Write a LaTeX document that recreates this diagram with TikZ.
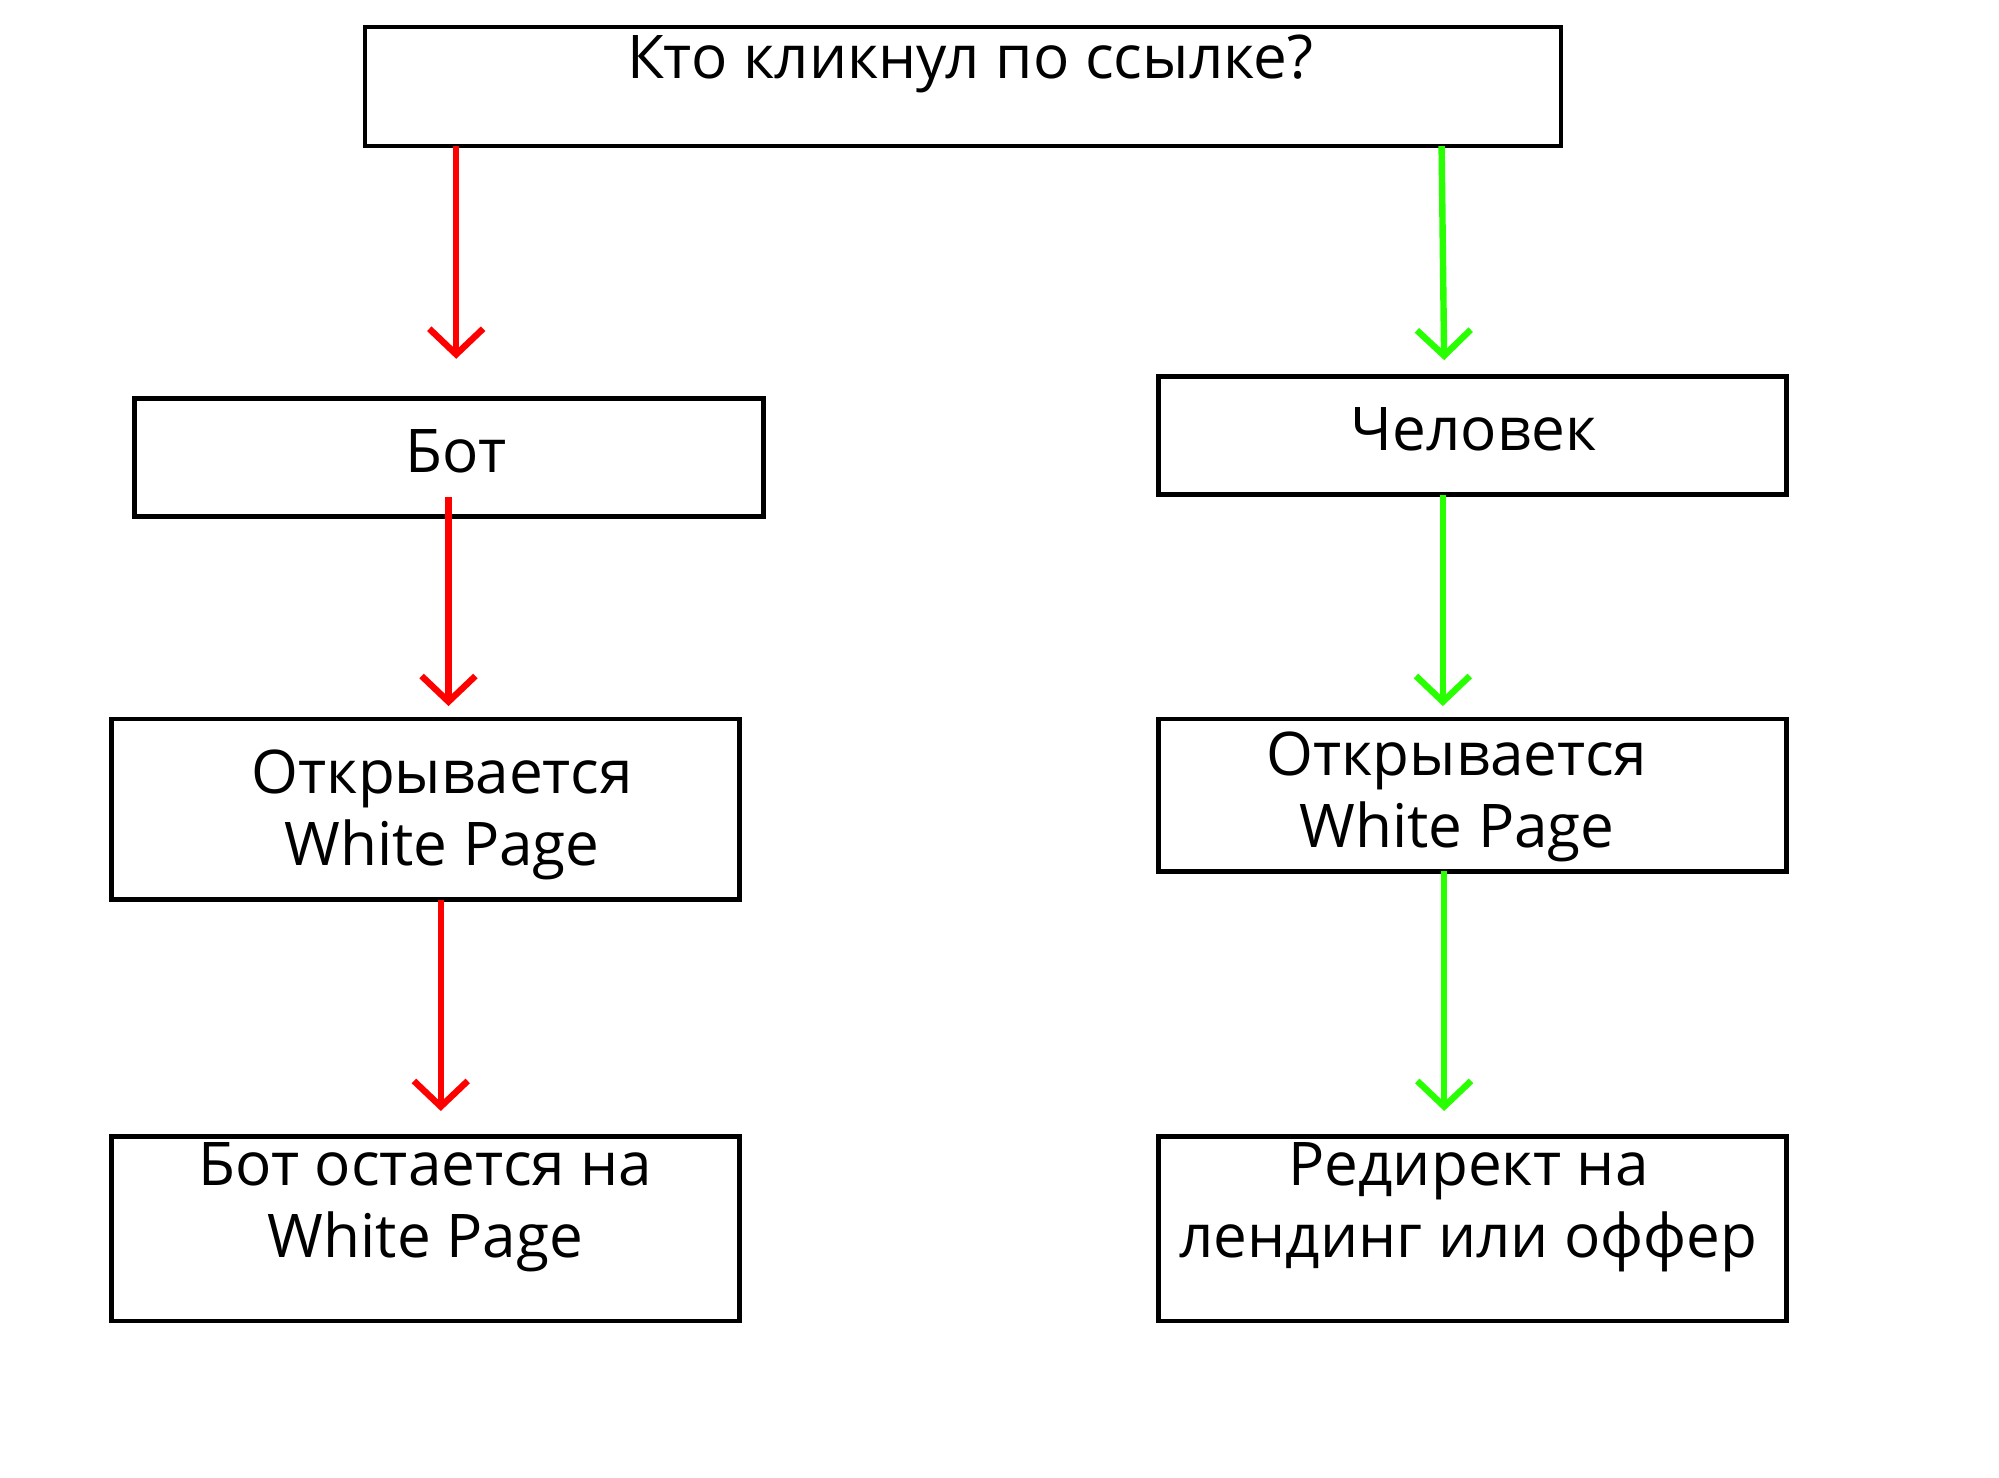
\documentclass[tikz,border=0pt]{standalone}
\usepackage{fontspec}
\setmainfont{Open Sans}
\usetikzlibrary{arrows.meta}
\begin{document}
\begin{tikzpicture}[x=1pt,y=-1pt,
  box/.style={draw,line width=3.5pt},
  lbl/.style={font=\fontsize{47}{56}\selectfont,align=center,inner sep=0pt},
  redarr/.style={draw={rgb,255:red,255;green,0;blue,0},line width=5pt,-{Straight Barb[length=20pt,width=42pt,line width=5pt]}},
  grnarr/.style={draw={rgb,255:red,40;green,255;blue,0},line width=5pt,-{Straight Barb[length=20pt,width=42pt,line width=5pt]}}]
\useasboundingbox (0,0) rectangle (1560,1153);
\draw[box] (285,21) rectangle (1218,114);
\draw[box] (105,311) rectangle (596,403);
\draw[box] (904,294) rectangle (1394,386);
\draw[box] (87,561) rectangle (577,702);
\draw[box] (904,561) rectangle (1394,680);
\draw[box] (87,887) rectangle (577,1031);
\draw[box] (904,887) rectangle (1394,1031);
\node[lbl] (t0) at (757,50) {Кто кликнул по ссылке?};
\node[lbl] (t1) at (356,352) {Бот};
\node[lbl] (t2) at (1150,335) {Человек};
\node[lbl] (t3) at (345,636) {Открывается\\White Page};
\node[lbl] (t4) at (1137,622) {Открывается\\White Page};
\node[lbl] (t5) at (332,942) {Бот остается на\\White Page};
\node[lbl] (t6) at (1146,942) {Редирект на\\лендинг или оффер};
\coordinate (a1) at (356,114); \coordinate (b1) at (356,280);
\coordinate (a2) at (350,388); \coordinate (b2) at (350,551);
\coordinate (a3) at (344,702); \coordinate (b3) at (344,867);
\coordinate (c1) at (1125,114); \coordinate (d1) at (1127,281);
\coordinate (c2) at (1126,386); \coordinate (d2) at (1126,551);
\coordinate (c3) at (1127,680); \coordinate (d3) at (1127,867);
\draw[redarr] (a1) -- (b1);
\draw[redarr] (a2) -- (b2);
\draw[redarr] (a3) -- (b3);
\draw[grnarr] (c1) -- (d1);
\draw[grnarr] (c2) -- (d2);
\draw[grnarr] (c3) -- (d3);
\end{tikzpicture}
\end{document}
